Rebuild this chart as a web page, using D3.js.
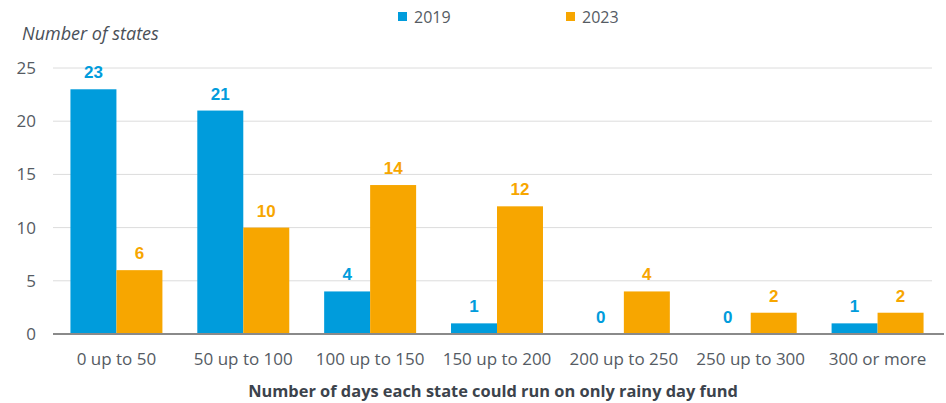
<!DOCTYPE html>
<html>
<head>
<meta charset="utf-8">
<script src="https://cdn.jsdelivr.net/npm/d3@7"></script>
<style>
  html, body { margin: 0; padding: 0; background: #fff; }
  svg { display: block; font-family: "Open Sans", sans-serif; }
</style>
</head>
<body>
<svg id="chart" width="946" height="403"></svg>
<script>
// Rainy day fund coverage: number of states by days of spending covered
const categories = ["0 up to 50", "50 up to 100", "100 up to 150", "150 up to 200", "200 up to 250", "250 up to 300", "300 or more"];
const seriesNames = ["2019", "2023"];
const values2019 = [23, 21, 4, 1, 0, 0, 1];
const values2023 = [6, 10, 14, 12, 4, 2, 2];
const yTicks = [0, 5, 10, 15, 20, 25];
const colors = ["#009cdc", "#f7a600"];

const FONT = "'Open Sans', sans-serif";
const svg = d3.select("#chart");
const left = 53;

const x = d3.scaleBand().domain(categories).range([left, 941]).paddingInner(0.275).paddingOuter(0.1375);
const xs = d3.scaleBand().domain(seriesNames).range([0, x.bandwidth()]);
const y = d3.scaleLinear().domain([0, 25]).range([334, 68]);

// gridlines
svg.append("g").selectAll("line").data(yTicks.filter(d => d > 0)).join("line")
  .attr("x1", left).attr("x2", 932)
  .attr("y1", d => y(d)).attr("y2", d => y(d))
  .attr("stroke", "#dcdcdc").attr("stroke-width", 1);

// y tick labels
const yAxis = svg.append("g").attr("transform", `translate(${left},0)`)
  .call(d3.axisLeft(y).tickValues(yTicks).tickSize(0).tickPadding(17));
yAxis.select(".domain").remove();
yAxis.selectAll("text").attr("font-size", 17).attr("fill", "#555b63")
  .attr("font-family", FONT);

// bars
const rows = categories.map((c, i) => ({ c, v: [values2019[i], values2023[i]] }));
const groups = svg.append("g").selectAll("g").data(rows).join("g")
  .attr("transform", d => `translate(${x(d.c)},0)`);
groups.selectAll("rect").data(d => d.v.map((v, k) => ({ v, k }))).join("rect")
  .attr("x", d => xs(seriesNames[d.k]))
  .attr("width", xs.bandwidth())
  .attr("y", d => y(d.v))
  .attr("height", d => y(0) - y(d.v))
  .attr("fill", d => colors[d.k]);
groups.selectAll("text").data(d => d.v.map((v, k) => ({ v, k }))).join("text")
  .attr("x", d => xs(seriesNames[d.k]) + xs.bandwidth() / 2)
  .attr("y", d => y(d.v) - 11)
  .attr("text-anchor", "middle")
  .attr("font-family", "'Liberation Sans', Arial, sans-serif")
  .attr("font-size", 17).attr("font-weight", "bold")
  .attr("fill", d => colors[d.k])
  .text(d => d.v);

// baseline axis
const xAxis = svg.append("g").attr("transform", `translate(0,${y(0)})`)
  .call(d3.axisBottom(x).tickSize(0).tickPadding(19));
xAxis.select(".domain").attr("stroke", "#8a8a8a").attr("stroke-width", 2)
  .attr("d", `M${left},0H944`);
xAxis.selectAll("text").attr("font-size", 17).attr("fill", "#555b63")
  .attr("font-family", FONT);

// axis titles
svg.append("text").attr("x", 22).attr("y", 40)
  .attr("font-size", 18).attr("font-style", "italic").attr("fill", "#4a5058")
  .text("Number of states");
svg.append("text").attr("x", 493).attr("y", 397).attr("text-anchor", "middle")
  .attr("font-size", 16.4).attr("font-weight", "bold").attr("fill", "#3c434c")
  .text("Number of days each state could run on only rainy day fund");

// legend
const legendX = [398, 566];
const legend = svg.append("g").selectAll("g").data(seriesNames).join("g")
  .attr("transform", (d, i) => `translate(${legendX[i]},0)`);
legend.append("rect").attr("x", 0).attr("y", 12).attr("width", 9).attr("height", 9)
  .attr("fill", (d, i) => colors[i]);
legend.append("text").attr("x", 16).attr("y", 23)
  .attr("font-size", 16).attr("fill", "#555b63").text(d => d);
</script>
</body>
</html>
